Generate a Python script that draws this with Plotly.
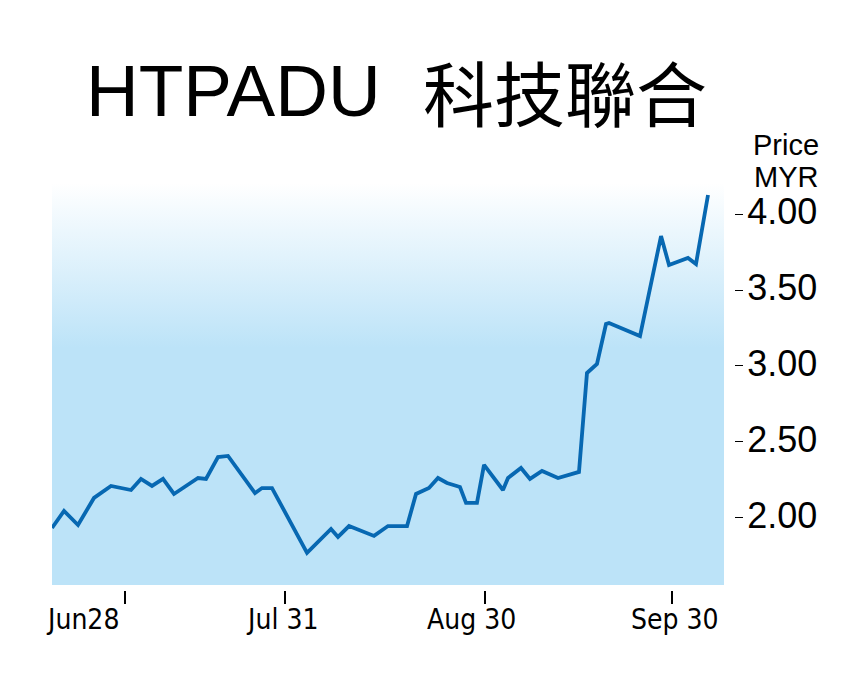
import plotly.graph_objects as go

# ---- data ----
session = [0, 1.79, 3.87, 6.25, 8.78, 11.76, 13.24, 14.88, 16.52, 18.15,
           21.73, 22.92, 24.70, 26.19, 30.21, 31.25, 32.74, 37.95, 41.52, 42.56,
           44.20, 47.92, 50.00, 52.83, 54.17, 56.10, 57.44, 58.78, 60.71, 61.61,
           63.24, 64.29, 67.11, 67.86, 69.79, 71.13, 72.92, 75.30, 78.42, 79.61,
           81.10, 82.44, 82.89, 85.71, 87.50, 90.63, 91.82, 94.64, 95.83, 97.62]
price = [1.934, 2.046, 1.954, 2.132, 2.211, 2.184, 2.257, 2.211, 2.257, 2.158,
         2.263, 2.257, 2.401, 2.408, 2.164, 2.197, 2.197, 1.770, 1.928, 1.875,
         1.947, 1.882, 1.947, 1.947, 2.158, 2.197, 2.263, 2.230, 2.204, 2.099,
         2.099, 2.349, 2.184, 2.263, 2.329, 2.257, 2.309, 2.263, 2.303, 2.954,
         3.013, 3.276, 3.283, 3.230, 3.197, 3.855, 3.664, 3.711, 3.671, 4.125]

x_tick_pos = [10.86, 34.67, 64.43, 92.26]
x_tick_labels = ["Jun28", "Jul 31", "Aug 30", "Sep 30"]
y_tick_vals = [2.0, 2.5, 3.0, 3.5, 4.0]
y_tick_labels = ["2.00", "2.50", "3.00", "3.50", "4.00"]

# ---- styling ----
X_RANGE = [0, 100]
Y_RANGE = [1.559, 4.204]
x_label_shift = [-42, -3, -13, 3]
LINE_COLOR = "#0768b2"
BG_BLUE = "#bce3f8"
NARROW = "Liberation Sans Narrow, Arial Narrow, DejaVu Sans Condensed, Liberation Sans, Arial"
SANS = "Liberation Sans, Arial, Helvetica, sans-serif"

fig = go.Figure()

# gradient background of the plot area
fig.add_trace(go.Scatter(
    x=[X_RANGE[0], X_RANGE[1], X_RANGE[1], X_RANGE[0], X_RANGE[0]],
    y=[Y_RANGE[0], Y_RANGE[0], Y_RANGE[1], Y_RANGE[1], Y_RANGE[0]],
    mode="lines", line=dict(width=0), fill="toself",
    fillgradient=dict(type="vertical",
                      colorscale=[[0, BG_BLUE], [0.59, BG_BLUE], [1, "#ffffff"]]),
    hoverinfo="skip", showlegend=False))

fig.add_trace(go.Scatter(
    x=session, y=price, mode="lines",
    line=dict(color=LINE_COLOR, width=3.8),
    showlegend=False))

fig.update_layout(
    width=863, height=690,
    margin=dict(l=44, r=137, t=175, b=108),
    paper_bgcolor="white", plot_bgcolor="white",
    xaxis=dict(domain=[0, 672 / 682], range=X_RANGE, anchor="free", position=0,
               showgrid=False, zeroline=False, showline=False,
               tickvals=x_tick_pos, ticktext=["" for _ in x_tick_pos],
               ticks="outside", ticklen=13, tickwidth=1.5, tickcolor="black",
               fixedrange=True),
    yaxis=dict(domain=[5 / 407, 1], range=Y_RANGE, side="right", anchor="free",
               position=1, showgrid=False, zeroline=False, showline=False,
               tickvals=y_tick_vals, ticktext=y_tick_labels,
               ticks="outside", ticklen=8, tickwidth=1.3, tickcolor="black",
               ticklabelshift=-3, ticklabelstandoff=-3,
               tickfont=dict(family=SANS, size=36, color="black"),
               fixedrange=True),
)

# x tick labels
for pos, lab, sh in zip(x_tick_pos, x_tick_labels, x_label_shift):
    fig.add_annotation(x=pos, xref="x", y=(590 - 619) / 407, yref="paper",
                       text=lab, showarrow=False, xshift=sh,
                       xanchor="center", yanchor="middle",
                       font=dict(family=NARROW, size=28, color="black"))

# title
fig.add_annotation(x=(383 - 52) / 682, xref="paper", y=(590 - 90) / 407, yref="paper",
                   text="HTPADU", showarrow=False, xanchor="right", yanchor="middle",
                   font=dict(family=SANS, size=73, color="black"))
fig.add_annotation(x=(421 - 52) / 682, xref="paper", y=(590 - 90) / 407, yref="paper",
                   text="科技聯合", showarrow=False, xanchor="left", yanchor="middle",
                   font=dict(family="Noto Sans CJK TC, Noto Sans CJK SC, sans-serif",
                             size=71, color="black"))

# unit label
fig.add_annotation(x=(786 - 52) / 682, xref="paper", y=(590 - 145) / 407, yref="paper",
                   text="Price", showarrow=False, xanchor="center", yanchor="middle",
                   font=dict(family=SANS, size=29, color="black"))
fig.add_annotation(x=(786 - 52) / 682, xref="paper", y=(590 - 177) / 407, yref="paper",
                   text="MYR", showarrow=False, xanchor="center", yanchor="middle",
                   font=dict(family=SANS, size=29, color="black"))

fig.write_html("out.html")
